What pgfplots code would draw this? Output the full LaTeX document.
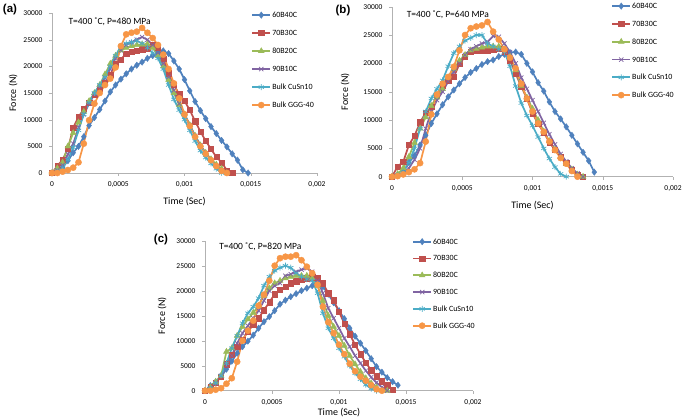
\documentclass[border=0pt]{standalone}
\usepackage{fontspec}
\setmainfont{Carlito}
\newfontfamily\arialfont{Liberation Sans}
\usepackage{pgfplots}
\pgfplotsset{compat=1.18}
\usepackage{pgfplotstable}

\definecolor{xlblue}{HTML}{4F81BD}
\definecolor{xlred}{HTML}{C0504D}
\definecolor{xlgreen}{HTML}{9BBB59}
\definecolor{xlpurple}{HTML}{8064A2}
\definecolor{xlcyan}{HTML}{4BACC6}
\definecolor{xlorange}{HTML}{F79646}

% A=60B40C B=70B30C C=80B20C D=90B10C E=Bulk CuSn10 F=Bulk GGG-40, force in N
\pgfplotstableread{
t        A      B      C      D      E      F
0        0      0      0      0      0      0
0.00004  300    1300   900    500    300    0
0.00008  1000   2500   2000   1500   1000   250
0.00012  2300   4500   5000   3500   2500   560
0.00016  3800   8500   7500   5500   4800   1000
0.00020  5000   10500  9500   8500   8000   2000
0.00024  6800   12000  11500  11000  11000  5500
0.00028  8900   13200  13500  13000  13200  9900
0.00032  10400  14700  15000  14800  15000  13000
0.00036  11900  15900  16500  16300  16500  15000
0.00040  13500  17000  18500  17800  18000  16500
0.00044  15200  18500  20500  19500  20000  17700
0.00048  16500  20500  22000  21500  22000  19800
0.00052  17600  21300  23000  23000  23800  23800
0.00056  18600  22400  23500  24000  24300  26000
0.00060  19500  22700  23800  24500  24500  26300
0.00064  20200  23000  24000  25000  24800  26500
0.00068  20800  23200  24100  25500  24300  27200
0.00072  21500  23400  24200  25000  23500  26300
0.00076  22000  24000  23500  24000  22500  25300
0.00080  22500  23500  22000  22500  21500  24000
0.00084  22900  21500  20000  20500  19500  22200
0.00088  22400  18700  17500  18000  16500  19500
0.00092  21000  16500  15000  15500  13800  16800
0.00096  19500  14800  12800  13000  11800  14000
0.00100  17500  13500  11000  11000  10000  11000
0.00104  15400  11800  9000   9000   8000   8800
0.00108  13400  9700   7000   7000   6000   6800
0.00112  11700  7800   5200   5200   4200   5000
0.00116  10200  6000   3800   3700   2900   3600
0.00120  8700   4500   2600   2400   1800   2400
0.00124  7400   3000   1600   1300   800    1300
0.00128  6100   2000   800    400    0      400
0.00132  4900   500    0      0      nan    0
0.00136  3600   0      nan    nan    nan    nan
0.00140  2400   nan    nan    nan    nan    nan
0.00144  600    nan    nan    nan    nan    nan
0.00148  0      nan    nan    nan    nan    nan
}\tablea

\pgfplotstableread{
t        A      B      C      D      E      F
0        0      0      0      0      0      0
0.00004  200    1800   500    200    300    100
0.00008  800    2600   1500   600    800    400
0.00012  2500   5600   3500   1500   2500   800
0.00016  3700   7200   6000   3000   5000   1300
0.00020  5600   9600   8500   5000   8500   2400
0.00024  7300   11300  10500  8500   11500  6200
0.00028  9400   12300  12500  11500  13800  11000
0.00032  11100  14300  14000  13500  15500  14500
0.00036  12700  16000  15500  15000  17000  16400
0.00040  14100  17000  17500  16800  19500  17600
0.00044  15300  17600  19000  18500  21800  19400
0.00048  16400  19900  20500  20000  23000  22300
0.00052  17500  21200  21500  21500  24000  25000
0.00056  18400  22000  22300  22500  24500  26200
0.00060  19100  22200  22600  23000  25000  26500
0.00064  19800  22300  22800  23500  25000  26700
0.00068  20300  22300  23000  23800  23500  27300
0.00072  20600  22400  23000  24800  23000  25600
0.00076  21200  22600  23000  24700  22500  24200
0.00080  21600  22000  22500  23500  22000  22500
0.00084  21900  20500  21200  22000  19500  21000
0.00088  22000  18200  18800  20000  16000  19100
0.00092  21600  15900  16000  17500  13000  16400
0.00096  20000  13800  14000  15500  10800  13800
0.00100  18500  11200  12000  13500  9000   11500
0.00104  16600  9300   10000  11500  7000   9400
0.00108  15100  7800   8000   9500   5000   7900
0.00112  13200  6100   6300   7500   3200   6200
0.00116  11500  4700   4800   5700   1700   4700
0.00120  10200  3500   3500   4000   500    3300
0.00124  8800   2400   2300   2700   0      2300
0.00128  7300   1200   1300   1500   nan    1000
0.00132  5800   300    400    600    nan    0
0.00136  4300   0      0      0      nan    nan
0.00140  2800   nan    nan    nan    nan    nan
0.00144  800    nan    nan    nan    nan    nan
}\tableb

\pgfplotstableread{
t        A      B      C      D      E      F
0        0      0      0      0      0      0
0.00004  1000   800    700    500    500    0
0.00008  1800   1600   1800   1500   1500   200
0.00012  2800   2800   3000   3000   3000   500
0.00016  4300   5300   7800   5000   5500   1400
0.00020  5900   7200   8500   7000   8500   2500
0.00024  7500   8800   11000  9500   11000  5800
0.00028  8800   10200  12800  11500  13500  10000
0.00032  9900   11800  14300  13000  15500  12000
0.00036  11100  13200  15600  14500  16800  14000
0.00040  12500  14500  17000  16000  18500  17000
0.00044  13800  16100  19000  18000  21000  19200
0.00048  14800  17700  20500  20000  22800  22000
0.00052  16000  19300  21500  21000  24000  25000
0.00056  17300  20200  22000  21500  24600  26500
0.00060  18100  20800  22500  23000  25000  26800
0.00064  18800  21500  22800  23300  24600  26800
0.00068  19400  21900  23000  23800  23500  27100
0.00072  20000  22200  23000  24200  22800  26100
0.00076  20500  22500  23000  24500  22300  24800
0.00080  21000  22700  22500  23800  22000  23500
0.00084  21800  22600  21000  22000  19500  21200
0.00088  20800  21500  18000  19500  15500  16800
0.00092  19300  19500  15000  16500  12500  13700
0.00096  17600  18100  12800  14500  10500  11500
0.00100  16000  15800  11000  12500  8500   9200
0.00104  14400  13400  9000   10500  6800   7300
0.00108  12500  11300  7000   8800   5000   5400
0.00112  10900  9200   5300   7000   3500   3900
0.00116  9500   7300   3800   5500   2300   2800
0.00120  8000   5600   2500   4000   1200   2000
0.00124  6400   4100   1500   2700   400    1100
0.00128  4800   2900   700    1600   0      300
0.00132  3700   1900   100    700    nan    0
0.00136  2600   1100   0      0      nan    nan
0.00140  1800   200    nan    nan    nan    nan
0.00144  1100   nan    nan    nan    nan    nan
}\tablec

\pgfplotsset{frc/.style={scale only axis, clip=false,
  axis x line=bottom, axis y line=left, axis line style={-, draw=gray!60},
  tick align=outside, major tick length=3pt, tick style={draw=gray!60},
  xmin=0, xmax=0.002, ymin=0, ymax=30000,
  xtick={0,0.0005,0.001,0.0015,0.002},
  xticklabels={0,{0,0005},{0,001},{0,0015},{0,002}},
  ytick={0,5000,...,30000}, scaled x ticks=false, scaled y ticks=false,
  /pgf/number format/.cd, set thousands separator={}, assume math mode=true,
  /pgfplots/.cd,
  tick label style={font=\fontsize{7.5}{9}\selectfont},
  yticklabel style={xshift=-3pt},
  xticklabel style={yshift=-2pt},
  xlabel={Time (Sec)}, ylabel={Force (N)},
  label style={font=\bfseries\fontsize{7.5}{9}\selectfont},
  legend cell align=left,
  legend style={draw=none, fill=none, anchor=north west,
    font=\fontsize{8}{9.6}\selectfont, inner sep=0pt,
    nodes={inner sep=0pt, text height=6pt, text depth=1pt},
    /tikz/every odd column/.append style={column sep=2pt}},
  legend image code/.code={\path[draw=none, fill=none]
    (0pt,-3.5pt) rectangle (18pt,3.5pt);
    \draw[overlay, mark repeat=2, mark phase=2, #1]
    plot coordinates {(0pt,0pt) (9pt,0pt) (18pt,0pt)};}},
  s1/.style={xlblue, line width=1.7pt, mark=diamond*, mark size=3.2pt,
    mark options={solid, line width=0.4pt}},
  s2/.style={xlred, line width=1.7pt, mark=square*, mark size=2.6pt,
    mark options={solid, line width=0.4pt}},
  s3/.style={xlgreen, line width=1.7pt, mark=triangle*, mark size=3.4pt,
    mark options={solid, line width=0.4pt}},
  s4/.style={xlpurple, line width=1.7pt, mark=x, mark size=3pt,
    mark options={solid, line width=0.7pt}},
  s5/.style={xlcyan, line width=1.7pt, mark=asterisk, mark size=3pt,
    mark options={solid, line width=0.7pt}},
  s6/.style={xlorange, line width=1.7pt, mark=*, mark size=3.1pt,
    mark options={solid, line width=0.4pt}}}

\newcommand\sixplots[1]{%
  \addplot[s1] table[x=t, y=A] {#1};
  \addplot[s2] table[x=t, y=B] {#1};
  \addplot[s3] table[x=t, y=C] {#1};
  \addplot[s4] table[x=t, y=D] {#1};
  \addplot[s5] table[x=t, y=E] {#1};
  \addplot[s6] table[x=t, y=F] {#1};
  \legend{60B40C,70B30C,80B20C,90B10C,Bulk CuSn10,Bulk GGG-40}}

\begin{document}
\begin{tikzpicture}[x=1pt, y=1pt]
\useasboundingbox (0,0) rectangle (685,420);

\begin{axis}[frc, at={(52pt,247pt)}, anchor=south west,
  width=265pt, height=160pt,
  every axis y label/.style={at={(axis description cs:-0.147,0.5)}, rotate=90, anchor=center},
  every axis x label/.style={at={(axis description cs:0.5,-0.18)}, anchor=center},
  legend style={at={(0.755,1.01)}, row sep=11pt}]
\sixplots{\tablea}
\node[anchor=west, font=\fontsize{9.5}{11}\selectfont] at (rel axis cs:0.049,0.944) {T=400 ˚C, P=480 MPa};
\end{axis}

\begin{axis}[frc, at={(392pt,243.3pt)}, anchor=south west,
  width=281pt, height=170pt,
  every axis y label/.style={at={(axis description cs:-0.167,0.5)}, rotate=90, anchor=center},
  every axis x label/.style={at={(axis description cs:0.5,-0.17)}, anchor=center},
  legend style={at={(0.783,1.025)}, row sep=10.8pt}]
\sixplots{\tableb}
\node[anchor=west, font=\fontsize{9.5}{11}\selectfont] at (rel axis cs:0.04,0.95) {T=400 ˚C, P=640 MPa};
\end{axis}

\begin{axis}[frc, at={(205pt,29.3pt)}, anchor=south west,
  width=268pt, height=150pt,
  every axis y label/.style={at={(axis description cs:-0.16,0.5)}, rotate=90, anchor=center},
  every axis x label/.style={at={(axis description cs:0.5,-0.147)}, anchor=center},
  legend style={at={(0.776,1.018)}, row sep=9.8pt}]
\sixplots{\tablec}
\node[anchor=west, font=\fontsize{9.5}{11}\selectfont] at (rel axis cs:0.04,0.958) {T=400 ˚C, P=820 MPa};
\end{axis}

\node[font=\arialfont\bfseries\fontsize{11.5}{13}\selectfont] at (10,410) {(a)};
\node[font=\arialfont\bfseries\fontsize{11.5}{13}\selectfont] at (343,409) {(b)};
\node[font=\arialfont\bfseries\fontsize{11.5}{13}\selectfont] at (161,180) {(c)};
\end{tikzpicture}
\end{document}
